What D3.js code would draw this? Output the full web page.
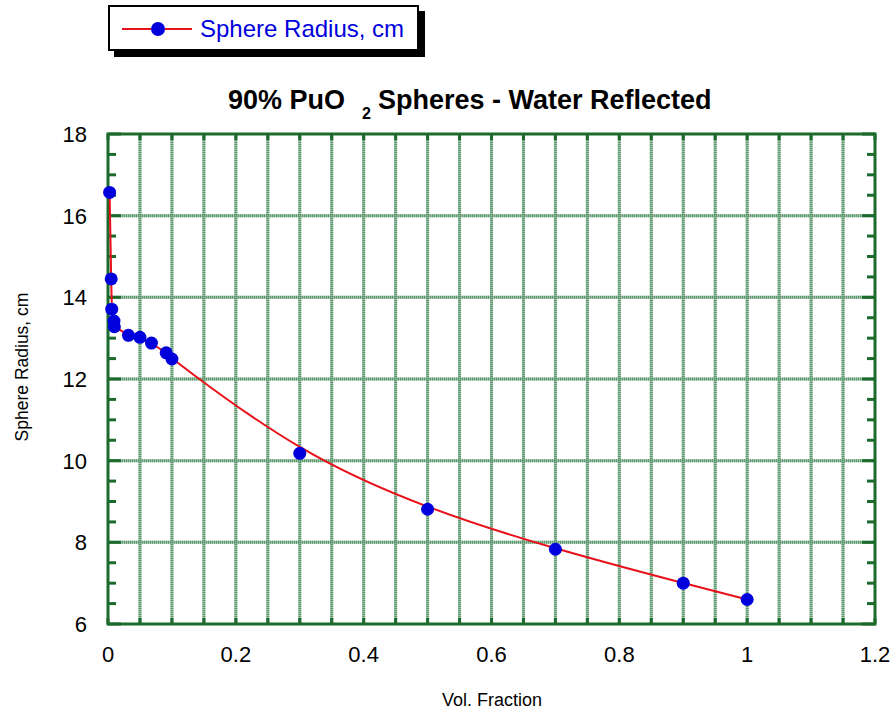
<!DOCTYPE html>
<html><head><meta charset="utf-8">
<script src="https://cdn.jsdelivr.net/npm/d3@7"></script>
<style>body{margin:0;background:#fff}svg{display:block}</style>
</head><body>
<script>
const volFraction = [0.0025, 0.005, 0.0058, 0.0094, 0.01, 0.032, 0.05, 0.068, 0.091, 0.1, 0.3, 0.5, 0.7, 0.9, 1.0];
const sphereRadius = [16.57, 14.45, 13.71, 13.42, 13.28, 13.07, 13.02, 12.88, 12.64, 12.49, 10.18, 8.81, 7.83, 7.0, 6.6];
const xTickLabels = [0, 0.2, 0.4, 0.6, 0.8, 1, 1.2];
const yTickLabels = [6, 8, 10, 12, 14, 16, 18];
const seriesName = "Sphere Radius, cm";
const xTitle = "Vol. Fraction";
const yTitle = "Sphere Radius, cm";

const W = 896, H = 714;
const svg = d3.select("body").append("svg").attr("width", W).attr("height", H);
const L = 108, R = 875, T = 134, B = 624;
const x = d3.scaleLinear().domain([0, 1.2]).range([L, R]);
const y = d3.scaleLinear().domain([6, 18]).range([B, T]);
const green = "#1d6b2c";

// grid
const vgrid = d3.range(1, 24).map(i => i * 0.05);
const hgrid = [8, 10, 12, 14, 16];
const g = svg.append("g");
[["#9cc2a6", null], ["#5f9870", "1,1"]].forEach(([c, d]) => {
  g.selectAll(null).data(vgrid).enter().append("line")
    .attr("x1", d => x(d)).attr("x2", d => x(d)).attr("y1", T).attr("y2", B)
    .attr("stroke", c).attr("stroke-width", 3).attr("stroke-dasharray", d);
  g.selectAll(null).data(hgrid).enter().append("line")
    .attr("y1", d => y(d)).attr("y2", d => y(d)).attr("x1", L).attr("x2", R)
    .attr("stroke", c).attr("stroke-width", 3).attr("stroke-dasharray", d);
});

// axes with inward ticks
const xt = d3.range(0, 25).map(i => i * 0.05);
const ytMinor = d3.range(0, 25).map(i => 6 + i * 0.5);
const ax = svg.append("g").attr("stroke", green).attr("stroke-width", 3);
ax.selectAll(null).data(xt).enter().append("line")
  .attr("x1", d => x(d)).attr("x2", d => x(d)).attr("y1", B).attr("y2", B - 6);
ax.selectAll(null).data(xt).enter().append("line")
  .attr("x1", d => x(d)).attr("x2", d => x(d)).attr("y1", T).attr("y2", T + 6);
ax.selectAll(null).data(ytMinor).enter().append("line")
  .attr("y1", d => y(d)).attr("y2", d => y(d)).attr("x1", L).attr("x2", d => L + (d % 2 === 0 ? 13 : 8));
ax.selectAll(null).data(ytMinor).enter().append("line")
  .attr("y1", d => y(d)).attr("y2", d => y(d)).attr("x1", R).attr("x2", d => R - (d % 2 === 0 ? 13 : 8));
svg.append("rect").attr("x", L).attr("y", T).attr("width", R - L).attr("height", B - T)
  .attr("fill", "none").attr("stroke", green).attr("stroke-width", 3);

// tick labels
const font = "Arial, 'Liberation Sans', sans-serif";
svg.append("g").selectAll("text").data(xTickLabels).enter().append("text")
  .attr("x", d => x(d)).attr("y", 662).attr("text-anchor", "middle")
  .attr("font-family", font).attr("font-size", 22).text(d => d);
svg.append("g").selectAll("text").data(yTickLabels).enter().append("text")
  .attr("x", 87).attr("y", d => y(d) + 8).attr("text-anchor", "end")
  .attr("font-family", font).attr("font-size", 22).text(d => d);

// axis titles
svg.append("text").attr("x", 492).attr("y", 706).attr("text-anchor", "middle")
  .attr("font-family", font).attr("font-size", 18).text(xTitle);
svg.append("text").attr("transform", `translate(28,367) rotate(-90)`).attr("text-anchor", "middle")
  .attr("font-family", font).attr("font-size", 17.5).text(yTitle);

// title
const title = svg.append("text").attr("x", 228).attr("y", 109)
  .attr("font-family", font).attr("font-size", 27).attr("font-weight", "bold");
title.append("tspan").text("90% PuO");
title.append("tspan").attr("x", 362).attr("y", 119).attr("font-size", 16).text("2");
title.append("tspan").attr("x", 378).attr("y", 109).text("Spheres - Water Reflected");

// line + points
const pts = volFraction.map((v, i) => [v, sphereRadius[i]]);
svg.append("path").datum(pts)
  .attr("d", d3.line().x(d => x(d[0])).y(d => y(d[1])).curve(d3.curveBasis))
  .attr("fill", "none").attr("stroke", "#e8111a").attr("stroke-width", 2);
svg.append("g").selectAll("circle").data(pts).enter().append("circle")
  .attr("cx", d => x(d[0])).attr("cy", d => y(d[1])).attr("r", 6.5).attr("fill", "#0000dd");

// legend
const lg = svg.append("g");
lg.append("rect").attr("x", 114).attr("y", 11).attr("width", 311).attr("height", 46).attr("fill", "#000");
lg.append("rect").attr("x", 109).attr("y", 6).attr("width", 309).attr("height", 44)
  .attr("fill", "#fff").attr("stroke", "#000").attr("stroke-width", 2);
lg.append("line").attr("x1", 122).attr("x2", 192).attr("y1", 29).attr("y2", 29)
  .attr("stroke", "#e8111a").attr("stroke-width", 2);
lg.append("circle").attr("cx", 158).attr("cy", 29).attr("r", 7).attr("fill", "#0000dd");
lg.append("text").attr("x", 200).attr("y", 37).attr("font-family", font).attr("font-size", 24)
  .attr("fill", "#0000dd").text(seriesName);
</script>
</body></html>
